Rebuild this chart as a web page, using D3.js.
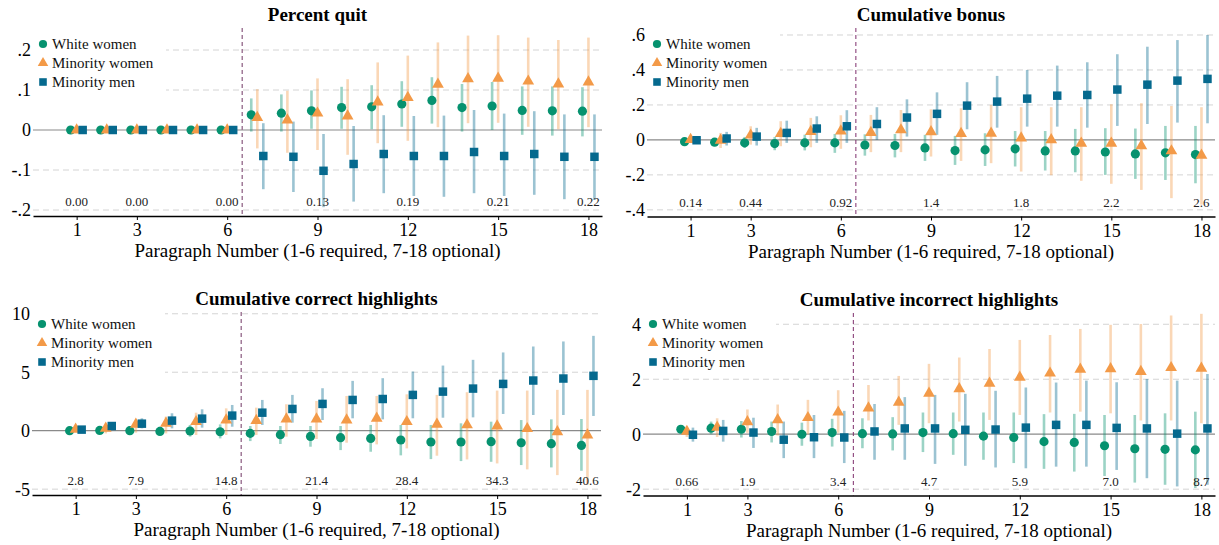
<!DOCTYPE html>
<html>
<head>
<meta charset="utf-8">
<script src="https://cdn.jsdelivr.net/npm/d3@7"></script>
<style>
  body { margin: 0; background: #fff; }
  svg { display: block; font-family: "Liberation Serif", "Times New Roman", serif; }
</style>
</head>
<body>
<script>
// paragraph numbers and tick labels
var paragraphs = d3.range(1, 19);
var xTicks = [1, 3, 6, 9, 12, 15, 18];
var meanParas = [1, 3, 6, 9, 12, 15, 18];
var seriesNames = ["White women", "Minority women", "Minority men"];

// [estimate, ci low, ci high] per paragraph 1..18
var quitWhiteWomen = [[0,0,0],[0,0,0],[0,0,0],[0,0,0],[0,0,0],[0,0,0],
  [0.038,-0.004,0.079],[0.042,-0.004,0.089],[0.048,0.003,0.099],[0.056,0.003,0.108],[0.058,0.002,0.112],[0.065,0.008,0.122],
  [0.074,0.016,0.132],[0.056,-0.004,0.115],[0.060,0,0.120],[0.049,-0.012,0.109],[0.048,-0.014,0.109],[0.047,-0.016,0.107]];
var quitMinorityWomen = [[0,0,0],[0,0,0],[0,0,0],[0,0,0],[0,0,0],[0,0,0],
  [0.031,-0.046,0.102],[0.025,-0.057,0.098],[0.042,-0.050,0.129],[0.035,-0.062,0.127],[0.070,-0.033,0.169],[0.081,-0.027,0.186],
  [0.114,0.007,0.219],[0.128,0.017,0.236],[0.129,0.018,0.237],[0.122,0.008,0.231],[0.115,0.002,0.225],[0.120,0.007,0.231]];
var quitMinorityMen = [[0,0,0],[0,0,0],[0,0,0],[0,0,0],[0,0,0],[0,0,0],
  [-0.065,-0.148,0.017],[-0.067,-0.155,0.021],[-0.102,-0.193,-0.010],[-0.085,-0.179,0.010],[-0.060,-0.158,0.037],[-0.065,-0.165,0.035],
  [-0.065,-0.167,0.036],[-0.055,-0.158,0.050],[-0.065,-0.165,0.041],[-0.060,-0.162,0.047],[-0.067,-0.173,0.039],[-0.067,-0.175,0.039]];
var quitMeans = ["0.00", "0.00", "0.00", "0.13", "0.19", "0.21", "0.22"];
var quitTicks = [-0.2, -0.1, 0, 0.1, 0.2];
var quitTickLabels = ["-.2", "-.1", "0", ".1", ".2"];

var bonusWhiteWomen = [[-0.010,-0.020,0.000],[-0.013,-0.035,0.010],[-0.017,-0.046,0.017],[-0.021,-0.059,0.017],[-0.017,-0.060,0.030],[-0.017,-0.074,0.034],
  [-0.029,-0.090,0.032],[-0.032,-0.100,0.034],[-0.046,-0.120,0.029],[-0.061,-0.143,0.023],[-0.057,-0.149,0.038],[-0.051,-0.152,0.051],
  [-0.063,-0.175,0.051],[-0.063,-0.185,0.063],[-0.069,-0.200,0.067],[-0.080,-0.223,0.065],[-0.074,-0.229,0.080],[-0.084,-0.248,0.080]];
var bonusMinorityWomen = [[0.002,-0.010,0.015],[-0.002,-0.046,0.040],[0.027,-0.027,0.078],[0.036,-0.036,0.107],[0.048,-0.042,0.126],[0.050,-0.051,0.141],
  [0.042,-0.070,0.143],[0.057,-0.070,0.171],[0.046,-0.095,0.175],[0.036,-0.120,0.181],[0.038,-0.133,0.200],[0.010,-0.181,0.187],
  [0.000,-0.202,0.187],[-0.019,-0.234,0.187],[-0.019,-0.251,0.204],[-0.034,-0.286,0.210],[-0.063,-0.333,0.194],[-0.088,-0.370,0.187]];
var bonusMinorityMen = [[-0.002,-0.021,0.015],[0.008,-0.032,0.046],[0.019,-0.032,0.069],[0.040,-0.017,0.110],[0.065,-0.017,0.135],[0.078,-0.017,0.170],
  [0.091,0.000,0.187],[0.128,0.019,0.232],[0.149,0.029,0.272],[0.196,0.061,0.330],[0.219,0.070,0.366],[0.236,0.076,0.400],
  [0.253,0.076,0.425],[0.257,0.070,0.444],[0.288,0.080,0.490],[0.316,0.091,0.533],[0.339,0.099,0.571],[0.349,0.095,0.600]];
var bonusMeans = ["0.14", "0.44", "0.92", "1.4", "1.8", "2.2", "2.6"];
var bonusTicks = [-0.4, -0.2, 0, 0.2, 0.4, 0.6];
var bonusTickLabels = ["-.4", "-.2", "0", ".2", ".4", ".6"];

var correctWhiteWomen = [[0,-0.10,0.10],[0.02,-0.17,0.20],[0,-0.23,0.20],[-0.06,-0.37,0.34],[-0.03,-0.51,0.49],[-0.09,-0.66,0.54],
  [-0.23,-0.89,0.40],[-0.34,-1.14,0.40],[-0.49,-1.37,0.40],[-0.60,-1.66,0.40],[-0.66,-1.80,0.49],[-0.80,-2.11,0.49],
  [-0.97,-2.43,0.49],[-0.97,-2.60,0.63],[-0.94,-2.66,0.77],[-1.03,-2.94,0.91],[-1.11,-3.14,0.97],[-1.26,-3.43,1.00]];
var correctMinorityWomen = [[0.11,-0.05,0.25],[0.20,-0.23,0.34],[0.54,-0.17,0.91],[0.63,-0.23,1.20],[0.77,-0.37,1.54],[0.91,-0.37,1.91],
  [0.86,-0.37,1.97],[1.00,-0.51,2.26],[1.00,-0.71,2.54],[0.91,-1.03,2.97],[1.06,-1.17,2.97],[0.77,-1.51,3.11],
  [0.54,-2.14,3.06],[0.49,-2.46,3.29],[0.40,-2.80,3.43],[0.17,-3.31,3.43],[-0.09,-3.80,3.49],[-0.37,-4.60,3.49]];
var correctMinorityMen = [[0.09,-0.10,0.30],[0.40,0.11,0.69],[0.60,0.20,1.06],[0.86,0.20,1.49],[1.03,0.26,1.83],[1.29,0.34,2.20],
  [1.54,0.49,2.63],[1.86,0.69,3.06],[2.29,0.91,3.63],[2.63,1.06,4.26],[2.71,0.97,4.49],[3.06,1.06,5.06],
  [3.34,1.11,5.57],[3.60,1.14,6.06],[4.00,1.43,6.69],[4.29,1.34,7.20],[4.46,1.34,7.63],[4.69,1.26,8.11]];
var correctMeans = ["2.8", "7.9", "14.8", "21.4", "28.4", "34.3", "40.6"];
var correctTicks = [-5, 0, 5, 10];
var correctTickLabels = ["-5", "0", "5", "10"];

var incorrectWhiteWomen = [[0.18,0.10,0.26],[0.22,0.00,0.46],[0.18,-0.12,0.48],[0.10,-0.30,0.46],[0.00,-0.42,0.42],[0.06,-0.45,0.56],
  [0.02,-0.51,0.58],[0.01,-0.59,0.62],[0.06,-0.65,0.79],[0.02,-0.75,0.79],[-0.07,-0.93,0.79],[-0.12,-1.05,0.79],
  [-0.27,-1.26,0.73],[-0.30,-1.36,0.74],[-0.42,-1.52,0.70],[-0.53,-1.76,0.70],[-0.55,-1.84,0.76],[-0.57,-1.96,0.82]];
var incorrectMinorityWomen = [[0.10,-0.10,0.28],[0.25,-0.10,0.58],[0.45,0.05,0.90],[0.52,-0.05,1.08],[0.60,0.00,1.25],[0.80,0.05,1.60],
  [0.95,0.50,1.79],[1.16,0.34,2.12],[1.49,0.40,2.56],[1.65,0.46,2.79],[1.85,0.52,3.10],[2.07,0.70,3.43],
  [2.22,0.79,3.61],[2.36,0.82,3.83],[2.38,0.76,3.98],[2.28,0.50,4.01],[2.42,0.50,4.32],[2.40,0.40,4.38]];
var incorrectMinorityMen = [[-0.02,-0.27,0.24],[0.12,-0.27,0.52],[0.06,-0.50,0.60],[-0.20,-0.87,0.46],[-0.11,-0.87,0.70],[-0.12,-1.05,0.85],
  [0.10,-0.93,1.10],[0.21,-0.93,1.35],[0.21,-1.08,1.43],[0.16,-1.15,1.47],[0.17,-1.21,1.58],[0.24,-1.24,1.70],
  [0.34,-1.18,1.88],[0.34,-1.18,1.95],[0.23,-1.30,1.89],[0.21,-1.60,2.01],[0.02,-1.90,1.95],[0.21,-1.84,2.19]];
var incorrectMeans = ["0.66", "1.9", "3.4", "4.7", "5.9", "7.0", "8.7"];
var incorrectTicks = [-2, 0, 2, 4];
var incorrectTickLabels = ["-2", "0", "2", "4"];

var colors = ["#06926f", "#f39a48", "#05698e"];
var shapes = [d3.symbolCircle, d3.symbolTriangle, d3.symbolSquare];
var sizes = [66, 60, 72];
var offsets = [-0.2, 0, 0.2];

var panels = [
  {title: "Percent quit", series: [quitWhiteWomen, quitMinorityWomen, quitMinorityMen], means: quitMeans,
   ticks: quitTicks, tickLabels: quitTickLabels, yDomain: [-0.215, 0.255],
   left: 33, right: 602, top: 28, bottom: 216, legendY: 44, vColor: "#a07a98", vWidth: 1.5},
  {title: "Cumulative bonus", series: [bonusWhiteWomen, bonusMinorityWomen, bonusMinorityMen], means: bonusMeans,
   ticks: bonusTicks, tickLabels: bonusTickLabels, yDomain: [-0.438, 0.64],
   left: 647, right: 1215, top: 28, bottom: 216.5, legendY: 44, vColor: "#7e2e6c", vWidth: 1},
  {title: "Cumulative correct highlights", series: [correctWhiteWomen, correctMinorityWomen, correctMinorityMen], means: correctMeans,
   ticks: correctTicks, tickLabels: correctTickLabels, yDomain: [-5.5, 10.15],
   left: 32, right: 601, top: 312, bottom: 495, legendY: 324, vColor: "#a07a98", vWidth: 1.5},
  {title: "Cumulative incorrect highlights", series: [incorrectWhiteWomen, incorrectMinorityWomen, incorrectMinorityMen], means: incorrectMeans,
   ticks: incorrectTicks, tickLabels: incorrectTickLabels, yDomain: [-2.23, 4.41],
   left: 643, right: 1215, top: 313, bottom: 495.5, legendY: 324, vColor: "#7e2e6c", vWidth: 1}
];

var svg = d3.select("body").append("svg")
  .attr("width", 1219)
  .attr("height", 545);

panels.forEach(function(p) {
  var x = d3.scaleLinear().domain([-0.45, 18.45]).range([p.left, p.right]);
  var y = d3.scaleLinear().domain(p.yDomain).range([p.bottom, p.top]);
  var g = svg.append("g");

  // dashed grid lines
  g.selectAll(".grid").data(p.ticks.filter(function(t) { return t !== 0; }))
    .enter().append("line")
    .attr("x1", p.left).attr("x2", p.right)
    .attr("y1", function(d) { return y(d); }).attr("y2", function(d) { return y(d); })
    .attr("stroke", "#d4d4d4").attr("stroke-width", 1).attr("stroke-dasharray", "6,4");

  // legend background hides the grid under it
  g.append("rect")
    .attr("x", p.left).attr("y", p.top)
    .attr("width", 133).attr("height", p.legendY + 51 - p.top)
    .attr("fill", "#fff");

  // zero line
  g.append("line")
    .attr("x1", p.left).attr("x2", p.right)
    .attr("y1", y(0)).attr("y2", y(0))
    .attr("stroke", "#8a8a8a").attr("stroke-width", 1.2);

  // required/optional divider
  g.append("line")
    .attr("x1", x(6.5)).attr("x2", x(6.5))
    .attr("y1", p.top).attr("y2", p.bottom)
    .attr("stroke", p.vColor).attr("stroke-width", p.vWidth).attr("stroke-dasharray", "4,3");

  // confidence intervals then markers
  p.series.forEach(function(s, k) {
    g.selectAll(".ci" + k).data(s)
      .enter().append("line")
      .attr("x1", function(d, i) { return x(paragraphs[i] + offsets[k]); })
      .attr("x2", function(d, i) { return x(paragraphs[i] + offsets[k]); })
      .attr("y1", function(d) { return y(d[1]); })
      .attr("y2", function(d) { return y(d[2]); })
      .attr("stroke", colors[k]).attr("stroke-opacity", 0.4).attr("stroke-width", 2.6);
  });
  p.series.forEach(function(s, k) {
    g.selectAll(".pt" + k).data(s)
      .enter().append("path")
      .attr("d", d3.symbol().type(shapes[k]).size(sizes[k]))
      .attr("transform", function(d, i) { return "translate(" + x(paragraphs[i] + offsets[k]) + "," + y(d[0]) + ")"; })
      .attr("fill", colors[k]);
  });

  // control means
  g.selectAll(".mean").data(p.means)
    .enter().append("text")
    .attr("x", function(d, i) { return x(meanParas[i]); })
    .attr("y", p.bottom - 10)
    .attr("text-anchor", "middle")
    .attr("font-size", 13)
    .attr("fill", "#222")
    .text(function(d) { return d; });

  // x axis
  var xa = g.append("g")
    .attr("transform", "translate(0," + p.bottom + ")")
    .call(d3.axisBottom(x).tickValues(xTicks).tickSize(4).tickSizeOuter(0).tickFormat(d3.format("d")));
  xa.select(".domain").attr("stroke", "#000").attr("stroke-width", 1.4);
  xa.selectAll(".tick line").attr("stroke", "#000");
  xa.selectAll(".tick text").attr("y", 20).attr("dy", 0)
    .attr("font-size", 18).attr("font-family", "Liberation Serif, serif").attr("fill", "#000");

  // y axis (labels only)
  var ya = g.append("g")
    .attr("transform", "translate(" + (p.left - 2) + ",0)")
    .call(d3.axisLeft(y).tickValues(p.ticks).tickSize(0)
      .tickFormat(function(d, i) { return p.tickLabels[i]; }));
  ya.select(".domain").remove();
  ya.selectAll(".tick text").attr("x", 0).attr("dy", "0.33em")
    .attr("font-size", 18).attr("font-family", "Liberation Serif, serif").attr("fill", "#000");

  // titles
  var cx = (p.left + p.right) / 2;
  g.append("text")
    .attr("x", cx).attr("y", p.top - 7)
    .attr("text-anchor", "middle").attr("font-size", 19).attr("font-weight", "bold")
    .text(p.title);
  g.append("text")
    .attr("x", cx).attr("y", p.bottom + 41)
    .attr("text-anchor", "middle").attr("font-size", 19)
    .text("Paragraph Number (1-6 required, 7-18 optional)");

  // legend
  seriesNames.forEach(function(name, k) {
    var ly = p.legendY + k * 19;
    g.append("path")
      .attr("d", d3.symbol().type(shapes[k]).size(sizes[k] * 0.8))
      .attr("transform", "translate(" + (p.left + 10) + "," + ly + ")")
      .attr("fill", colors[k]);
    g.append("text")
      .attr("x", p.left + 19).attr("y", ly + 5)
      .attr("font-size", 15).attr("fill", "#111")
      .text(name);
  });
});
</script>
</body>
</html>
